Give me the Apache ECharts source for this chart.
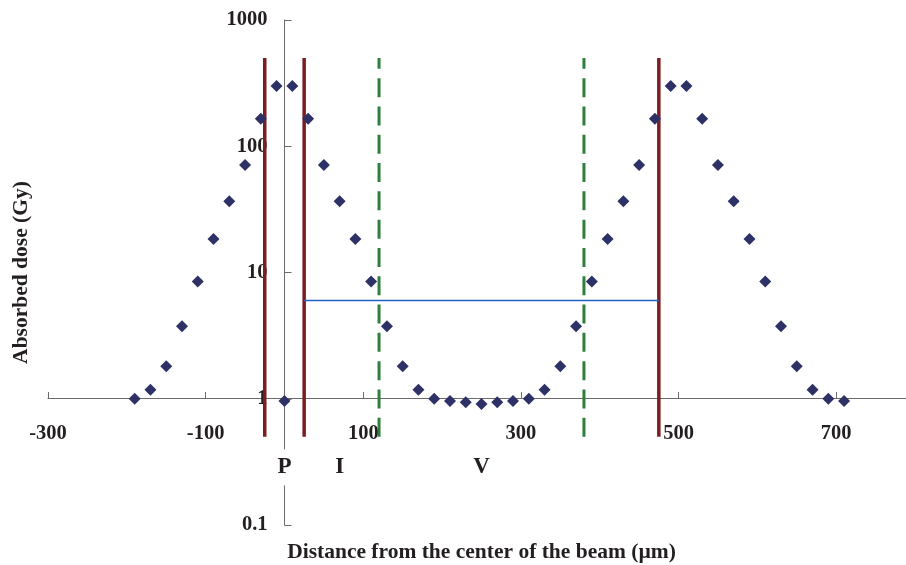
<!DOCTYPE html>
<html>
<head>
<meta charset="utf-8">
<script src="https://cdn.jsdelivr.net/npm/echarts@6/dist/echarts.min.js"></script>
<style>
  html, body { margin: 0; padding: 0; background: #fff; }
  #chart { width: 906px; height: 565px; }
</style>
</head>
<body>
<div id="chart"></div>
<script>
// distance from beam centre (µm) and absorbed dose (Gy)
const distance = [-190, -170, -150, -130, -110, -90, -70, -50, -30, -10, 0, 10, 30, 50, 70, 90, 110, 130, 150, 170,
  190, 210, 230, 250, 270, 290, 310, 330, 350, 370, 390, 410, 430, 450, 470, 490, 510, 530, 550, 570,
  590, 610, 630, 650, 670, 690, 710];
const dose = [1.0, 1.18, 1.81, 3.75, 8.5, 18.4, 36.6, 71, 165, 300, 0.96, 300, 165, 71, 36.6, 18.4, 8.5, 3.75, 1.81, 1.18,
  1.0, 0.96, 0.94, 0.91, 0.94, 0.96, 1.0, 1.18, 1.81, 3.75, 8.5, 18.4, 36.6, 71, 165, 300, 300, 165, 71, 36.6,
  18.4, 8.5, 3.75, 1.81, 1.18, 1.0, 0.96];

// x axis tick labels
const xTicks = [-300, -100, 100, 300, 500, 700];

// boundary lines: solid (dark red) and dashed (green), drawn between two dose levels
const solidLineX = [-25, 25, 475];
const dashedLineX = [120, 380];
const boundaryDose = [0.5, 500];

// horizontal reference level (blue)
const refDose = 6;
const refRange = [25, 475];

// region labels
const regionNames = ["P", "I", "V"];
const regionX = [0, 70, 250];
const regionDose = 0.286;

const font = "'Liberation Serif', 'Times New Roman', serif";
const textColor = "#231f20";
const axisColor = "#6b6b6b";

const vLine = (x, color, width, type) => ({
  type: "line",
  data: [[x, boundaryDose[0]], [x, boundaryDose[1]]],
  symbol: "none",
  silent: true,
  z: 1,
  lineStyle: { color: color, width: width, type: type },
});

const series = [];
solidLineX.forEach((x) => series.push(vLine(x, "#7b1e22", 3.5, "solid")));
dashedLineX.forEach((x) => series.push(vLine(x, "#2f7f3c", 3, [19, 9.3])));
series.push({
  type: "line",
  data: [[refRange[0], refDose], [refRange[1], refDose]],
  symbol: "none",
  silent: true,
  z: 1,
  lineStyle: { color: "#2160c4", width: 1.5 },
});
series.push({
  type: "scatter",
  data: distance.map((d, i) => [d, dose[i]]),
  symbol: "diamond",
  symbolSize: 12,
  z: 3,
  itemStyle: { color: "#2e3166", opacity: 1 },
});
series.push({
  type: "scatter",
  data: regionNames.map((n, i) => ({ value: [regionX[i], regionDose], name: n })),
  symbolSize: 1,
  z: 4,
  itemStyle: { color: "transparent", opacity: 1 },
  label: {
    show: true,
    position: "inside",
    formatter: (p) => p.name,
    fontFamily: font,
    fontWeight: "bold",
    fontSize: 23,
    lineHeight: 24,
    color: textColor,
    backgroundColor: "#fff",
    padding: [6, 2],
  },
});

const chart = echarts.init(document.getElementById("chart"));
chart.setOption({
  animation: false,
  backgroundColor: "#fff",
  grid: { left: 48, top: 20, width: 867, height: 505, containLabel: false, outerBoundsMode: "none" },
  xAxis: {
    type: "value",
    min: -300,
    max: 800,
    interval: 200,
    position: "bottom",
    offset: -127,
    name: "Distance from the center of the beam (\u00b5m)",
    nameLocation: "middle",
    nameGap: 143,
    nameTextStyle: { fontFamily: font, fontWeight: "bold", fontSize: 21.5, color: textColor },
    axisLine: { onZero: false, lineStyle: { color: axisColor, width: 1 } },
    axisTick: { inside: true, length: 6, customValues: xTicks, lineStyle: { color: axisColor } },
    axisLabel: {
      customValues: xTicks,
      margin: 25,
      fontFamily: font,
      fontWeight: "bold",
      fontSize: 20.5,
      color: textColor,
    },
    splitLine: { show: false },
  },
  yAxis: {
    type: "log",
    logBase: 10,
    min: 0.1,
    max: 1000,
    position: "left",
    offset: -236.5,
    name: "Absorbed dose (Gy)",
    nameLocation: "middle",
    nameRotate: 90,
    nameGap: 252,
    nameTextStyle: { fontFamily: font, fontWeight: "bold", fontSize: 21.5, color: textColor },
    axisLine: { onZero: false, lineStyle: { color: axisColor, width: 1 } },
    axisTick: { inside: true, length: 7, lineStyle: { color: axisColor } },
    axisLabel: {
      margin: 17,
      formatter: (v) => String(v),
      fontFamily: font,
      fontWeight: "bold",
      fontSize: 20.5,
      color: textColor,
    },
    splitLine: { show: false },
    minorTick: { show: false },
  },
  series: series,
});
</script>
</body>
</html>
